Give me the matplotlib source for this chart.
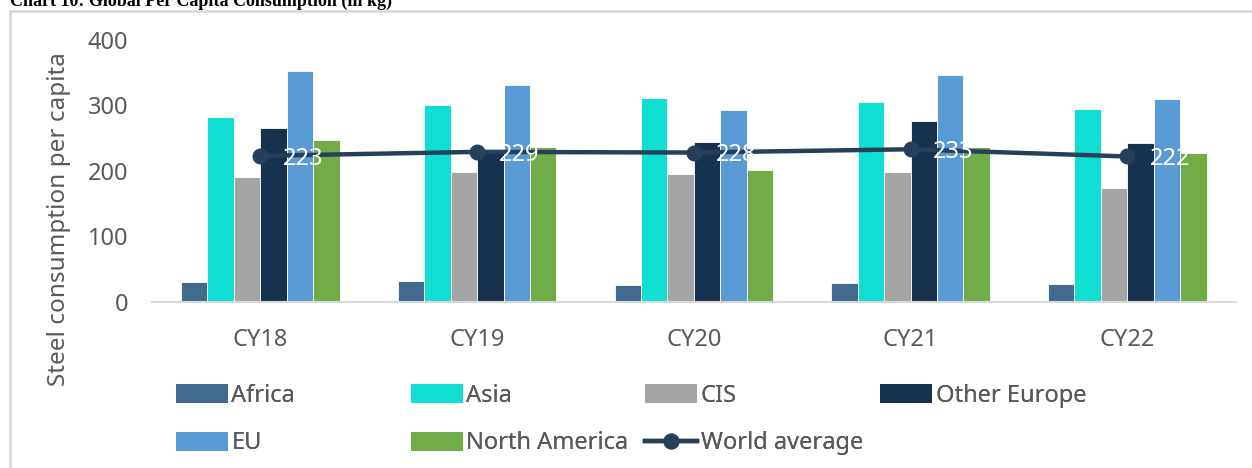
import matplotlib
matplotlib.use('Agg')
import matplotlib.pyplot as plt
import numpy as np
from matplotlib.patches import Patch
from matplotlib.lines import Line2D

years = ['CY18', 'CY19', 'CY20', 'CY21', 'CY22']
africa = [30, 31, 26, 28, 27]
asia = [282, 300, 311, 305, 295]
cis = [190, 199, 195, 199, 174]
other_europe = [265, 233, 244, 276, 243]
eu = [353, 332, 293, 346, 310]
north_america = [247, 236, 201, 237, 227]
world_avg = [223, 229, 228, 233, 222]

series = [
    ('Africa', africa, '#426A8E'),
    ('Asia', asia, '#10DED3'),
    ('CIS', cis, '#A5A5A5'),
    ('Other Europe', other_europe, '#16324F'),
    ('EU', eu, '#5B9BD5'),
    ('North America', north_america, '#70AD47'),
]
line_color = '#264059'
text_color = '#595959'

plt.rcParams['font.family'] = ['Noto Sans', 'DejaVu Sans']
fs = 17

fig = plt.figure(figsize=(12.52, 4.68), dpi=100)
ax = fig.add_axes([0.1214, 0.3553, 0.8656, 0.5592])

x = np.arange(len(years))
w = 0.122
for i, (name, vals, col) in enumerate(series):
    ax.bar(x + (i - 2.5) * w, vals, w, color=col, edgecolor='white', linewidth=0.6, zorder=2)

ax.plot(x, world_avg, color=line_color, lw=3.2, marker='o', ms=10.5, zorder=3)
for xi, v in zip(x, world_avg):
    ax.annotate(str(v), (xi, v), xytext=(16, -2), textcoords='offset points',
                color='white', fontsize=fs, va='center', ha='left', zorder=4)

ax.set_ylim(0, 400)
ax.set_xlim(-0.5, len(years) - 0.5)
ax.set_yticks([0, 100, 200, 300, 400])
ax.set_xticks(x)
ax.set_xticklabels(years)
ax.tick_params(length=0, labelsize=fs, colors=text_color)
ax.tick_params(axis='y', pad=17)
ax.tick_params(axis='x', pad=19)
for s in ['top', 'right', 'left']:
    ax.spines[s].set_visible(False)
ax.spines['bottom'].set_color('#D9D9D9')
ax.spines['bottom'].set_linewidth(1.5)
ax.set_ylabel('Steel consumption per capita', fontsize=fs + 0.5, color=text_color)
ax.yaxis.set_label_coords(-0.0747, 0.316)

# legend, four columns placed like the excel layout
handles = [Patch(facecolor=c, edgecolor='none') for _, _, c in series]
handles.append(Line2D([], [], color=line_color, lw=3.2, marker='o', ms=10.5))
labels = [n for n, _, _ in series] + ['World average']
cols = [[0, 4], [1, 5], [2, 6], [3]]
col_x = [0.1405, 0.328, 0.5155, 0.703]
for cx, idx in zip(col_x, cols):
    leg = fig.legend([handles[i] for i in idx], [labels[i] for i in idx],
                     loc='upper left', bbox_to_anchor=(cx, 0.18), frameon=False,
                     fontsize=fs, labelcolor=text_color, handlelength=2.2,
                     handleheight=0.85, handletextpad=0.15, labelspacing=1.0,
                     borderaxespad=0, borderpad=0)
    fig.add_artist(leg)

# outer chart border
fig.add_artist(plt.Line2D([0.008, 0.008], [0, 1 - 11 / 468], color='#D9D9D9', lw=2))
fig.add_artist(plt.Line2D([0.008, 1], [1 - 11 / 468, 1 - 11 / 468], color='#D9D9D9', lw=2))

fig.text(0.008, 1 - 6 / 468, 'Chart 10: Global Per Capita Consumption (in kg)',
         family='Liberation Serif', fontweight='bold', fontsize=13, va='baseline', ha='left')

fig.savefig('out.png', dpi=100)
